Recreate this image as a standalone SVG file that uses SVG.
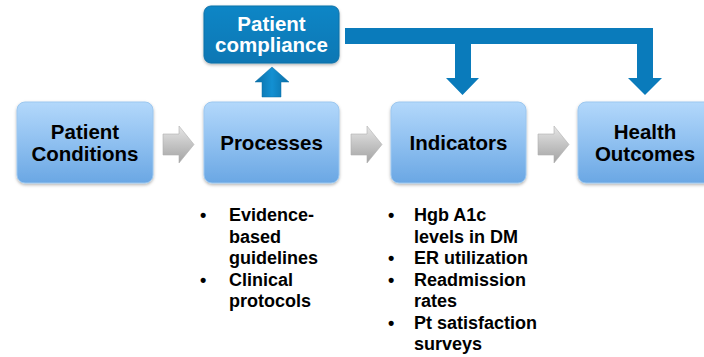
<svg xmlns="http://www.w3.org/2000/svg" width="704" height="357" viewBox="0 0 704 357">
  <defs>
    <linearGradient id="boxGrad" x1="0" y1="0" x2="0" y2="1">
      <stop offset="0" stop-color="#b3d8fb"/>
      <stop offset="0.5" stop-color="#8fc0f0"/>
      <stop offset="1" stop-color="#6aa7e4"/>
    </linearGradient>
    <linearGradient id="darkGrad" x1="0" y1="0" x2="0" y2="1">
      <stop offset="0" stop-color="#0d86c6"/>
      <stop offset="1" stop-color="#0877b4"/>
    </linearGradient>
    <linearGradient id="grayGrad" x1="0" y1="0" x2="0" y2="1">
      <stop offset="0" stop-color="#e6e6e6"/>
      <stop offset="0.5" stop-color="#c4c4c4"/>
      <stop offset="1" stop-color="#a3a3a3"/>
    </linearGradient>
    <linearGradient id="blueArrowGrad" x1="0" y1="0" x2="1" y2="0">
      <stop offset="0" stop-color="#0a6ea6"/>
      <stop offset="0.5" stop-color="#1390d2"/>
      <stop offset="1" stop-color="#0a6ea6"/>
    </linearGradient>
    <filter id="shadow" x="-10%" y="-10%" width="125%" height="130%">
      <feDropShadow dx="0" dy="1.5" stdDeviation="1.5" flood-color="#000" flood-opacity="0.3"/>
    </filter>
  </defs>
  <style>
    .box { fill: url(#boxGrad); stroke: #9cc7ef; stroke-width: 1; filter: url(#shadow); }
    .dark { fill: url(#darkGrad); stroke: #0a70a8; stroke-width: 1; filter: url(#shadow); }
    .lbl { font-family: "Liberation Sans", Arial, sans-serif; font-weight: bold; font-size: 20.5px; fill: #000; text-anchor: middle; }
    .wlbl { font-family: "Liberation Sans", Arial, sans-serif; font-weight: bold; font-size: 20.5px; fill: #fff; text-anchor: middle; }
    .bl { font-family: "Liberation Sans", Arial, sans-serif; font-weight: bold; font-size: 18px; fill: #000; }
    .gray { fill: url(#grayGrad); stroke: #b0b0b0; stroke-width: 0.6; }
    .blue { fill: #0a7bbb; }
  </style>

  <g id="connectors">
    <path class="gray" d="M163,134 H179 V126 L194,144.5 L179,163 V155 H163 Z"/>
    <path class="gray" d="M351,134 H367 V126 L382,144.5 L367,163 V155 H351 Z"/>
    <path class="gray" d="M538,134 H554 V126 L569,144.5 L554,163 V155 H538 Z"/>
    <path d="M262,97 V82 H255 L272,67 L289,82 H281 V97 Z" fill="url(#blueArrowGrad)" stroke="#0a6ea6" stroke-width="0.5"/>
    <path class="blue" d="M345,28 H653 V78 H662 L645,95 L628,78 H637 V44 H471 V78 H479 L462.5,95 L446,78 H455 V44 H345 Z"/>
  </g>

  <g id="patient-conditions">
    <rect class="box" x="17" y="102" width="136" height="81" rx="8"/>
    <text class="lbl" x="85" y="139">Patient</text>
    <text class="lbl" x="85" y="161">Conditions</text>
  </g>

  <g id="processes">
    <rect class="box" x="204" y="102" width="135" height="81" rx="8"/>
    <text class="lbl" x="271.5" y="150">Processes</text>
  </g>

  <g id="patient-compliance">
    <rect class="dark" x="204" y="6" width="135" height="57" rx="7"/>
    <text class="wlbl" x="271.5" y="31">Patient</text>
    <text class="wlbl" x="271.5" y="52">compliance</text>
  </g>

  <g id="indicators">
    <rect class="box" x="391" y="102" width="135" height="81" rx="8"/>
    <text class="lbl" x="458.5" y="150">Indicators</text>
  </g>

  <g id="health-outcomes">
    <rect class="box" x="578" y="102" width="135" height="81" rx="8"/>
    <text class="lbl" x="645" y="139">Health</text>
    <text class="lbl" x="645" y="161">Outcomes</text>
  </g>

  <g id="processes-list">
    <text class="bl" x="200" y="221">•</text>
    <text class="bl" x="229" y="221">Evidence-</text>
    <text class="bl" x="229" y="242.5">based</text>
    <text class="bl" x="229" y="264">guidelines</text>
    <text class="bl" x="200" y="285.5">•</text>
    <text class="bl" x="229" y="285.5">Clinical</text>
    <text class="bl" x="229" y="307">protocols</text>
  </g>

  <g id="indicators-list">
    <text class="bl" x="388" y="221">•</text>
    <text class="bl" x="414" y="221">Hgb A1c</text>
    <text class="bl" x="414" y="242.5">levels in DM</text>
    <text class="bl" x="388" y="264">•</text>
    <text class="bl" x="414" y="264">ER utilization</text>
    <text class="bl" x="388" y="285.5">•</text>
    <text class="bl" x="414" y="285.5">Readmission</text>
    <text class="bl" x="414" y="307">rates</text>
    <text class="bl" x="388" y="328.5">•</text>
    <text class="bl" x="414" y="328.5">Pt satisfaction</text>
    <text class="bl" x="414" y="350">surveys</text>
  </g>
</svg>
